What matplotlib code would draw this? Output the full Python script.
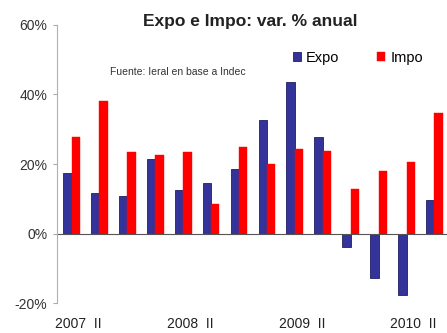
import matplotlib
matplotlib.use("Agg")
import matplotlib.pyplot as plt
import numpy as np

plt.rcParams['font.family'] = ['Liberation Sans', 'DejaVu Sans']

quarters = ["2007 II", "2007 III", "2007 IV", "2008 I", "2008 II", "2008 III", "2008 IV",
            "2009 I", "2009 II", "2009 III", "2009 IV", "2010 I", "2010 II", "2010 III"]
expo = [17.4, 11.7, 10.8, 21.3, 12.5, 14.4, 18.6, 32.6, 43.7, 27.7, -3.8, -12.9, -17.6, 9.5]
impo = [27.7, 38.0, 23.4, 22.6, 23.4, 8.6, 24.9, 20.0, 24.2, 23.7, 12.9, 17.9, 20.5, 34.7]
shown_labels = ["2007  II", "2008  II", "2009  II", "2010  II"]
shown_idx = [0, 4, 8, 12]
yticks = [-20, 0, 20, 40, 60]

fig = plt.figure(figsize=(4.47, 3.33), dpi=100)
ax = fig.add_axes([0.1275, 0.09, 0.8725, 0.835])

x = np.arange(len(quarters))
w = 0.3
ax.bar(x - w/2, expo, width=w, color="#333399", edgecolor="#1f1f66", linewidth=0.6, label="Expo")
ax.bar(x + w/2, impo, width=w, color="#ff0000", edgecolor="#ff0000", linewidth=0.3, label="Impo")

ax.set_ylim(-20, 60)
ax.set_xlim(-0.52, 13.45)
ax.set_yticks(yticks)
ax.set_yticklabels([f"{t}%" for t in yticks], fontsize=10, color="#333333")
ax.set_xticks(x[shown_idx] + 0.25)
ax.set_xticklabels(shown_labels, fontsize=10, color="#222222")
ax.tick_params(axis='x', length=0, pad=10)
ax.tick_params(axis='y', length=3, color="#aaaaaa", pad=4)

for s in ["top", "right", "bottom"]:
    ax.spines[s].set_visible(False)
ax.spines["left"].set_color("#b0b0b0")
ax.spines["left"].set_linewidth(0.8)
ax.axhline(0, color="#555555", linewidth=0.8)

fig.text(0.56, 0.935, "Expo e Impo: var. % anual", ha="center", va="center",
         fontsize=12.5, fontweight="bold", color="#222222")
fig.text(0.245, 0.784, "Fuente: Ieral en base a Indec", ha="left", va="center",
         fontsize=7.5, color="#333333")
fig.legend(loc="center left", bbox_to_anchor=(0.655, 0.826), ncol=2, frameon=False,
           fontsize=10.5, handlelength=0.55, handleheight=0.55, handletextpad=0.35,
           columnspacing=2.6, borderaxespad=0, borderpad=0)

fig.savefig("out.png", dpi=100)
